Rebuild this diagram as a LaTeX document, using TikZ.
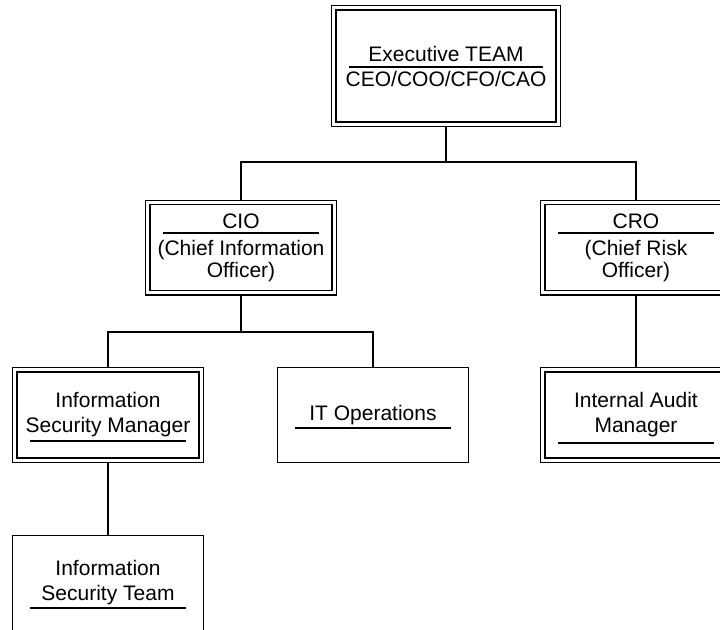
\documentclass[tikz,border=0pt]{standalone}
\usepackage{fontspec}
\setsansfont{Liberation Sans}
\usepackage{tikz}
\usetikzlibrary{positioning}

\begin{document}
\begin{tikzpicture}[x=0.5pt,y=-0.5pt,every node/.style={font=\sffamily\fontsize{10.5}{12.5}\selectfont}]
\tikzstyle{unit}=[draw,line width=0.6pt,fill=white,minimum width=95.4pt,minimum height=47.4pt,inner sep=0pt,align=center]
\tikzstyle{head}=[unit,double,double distance=1.6pt,minimum width=93.2pt,minimum height=45.2pt]
\tikzstyle{link}=[line width=0.6pt]
\tikzstyle{uline}=[line width=0.6pt]
\useasboundingbox (0,0) rectangle (720,629);
\clip (0,0) rectangle (720,629);
% boxes
\node[head,minimum width=112.2pt,minimum height=58.2pt] (exec) at (446,66) {Executive TEAM\\CEO/COO/CFO/CAO};
\node[head,font=\sffamily\fontsize{10.5}{11}\selectfont] (cio) at (241,247.5) {CIO\\[2.5pt](Chief Information\\Officer)};
\node[head,font=\sffamily\fontsize{10.5}{11}\selectfont] (cro) at (636,247.5) {CRO\\[2.5pt](Chief Risk\\Officer)};
\node[head] (ism) at (108,415) {Information\\Security Manager};
\node[unit] (itops) at (373,415) {IT Operations};
\node[head] (audit) at (636,415) {Internal Audit\\Manager};
\node[unit] (team) at (108,583) {Information\\Security Team};
% rules under the titles
\draw[uline] ([xshift=7.9pt,yshift=-0.5pt]exec.west) -- ([xshift=-7.9pt,yshift=-0.5pt]exec.east);
\draw[uline] ([xshift=7.9pt,yshift=7.25pt]cio.west) -- ([xshift=-7.9pt,yshift=7.25pt]cio.east);
\draw[uline] ([xshift=7.9pt,yshift=7.25pt]cro.west) -- ([xshift=-7.9pt,yshift=7.25pt]cro.east);
\draw[uline] ([xshift=7.9pt,yshift=-13pt]ism.west) -- ([xshift=-7.9pt,yshift=-13pt]ism.east);
\draw[uline] ([xshift=9pt,yshift=-6.5pt]itops.west) -- ([xshift=-9pt,yshift=-6.5pt]itops.east);
\draw[uline] ([xshift=7.9pt,yshift=-14pt]audit.west) -- ([xshift=-7.9pt,yshift=-14pt]audit.east);
\draw[uline] ([xshift=9pt,yshift=-12.5pt]team.west) -- ([xshift=-9pt,yshift=-12.5pt]team.east);
% connectors
\coordinate (top) at (446,162);
\coordinate (mid) at (241,332);
\draw[link,shorten <=1.1pt] (exec) -- (top);
\draw[link,shorten >=1.1pt] (top) -| (cio);
\draw[link,shorten >=1.1pt] (top) -| (cro);
\draw[link,shorten <=1.1pt] (cio) -- (mid);
\draw[link,shorten >=1.1pt] (mid) -| (ism);
\draw[link] (mid) -| (itops);
\draw[link,shorten <=1.1pt,shorten >=1.1pt] (cro) -- (audit);
\draw[link,shorten <=1.1pt] (ism) -- (team);
\end{tikzpicture}
\end{document}
